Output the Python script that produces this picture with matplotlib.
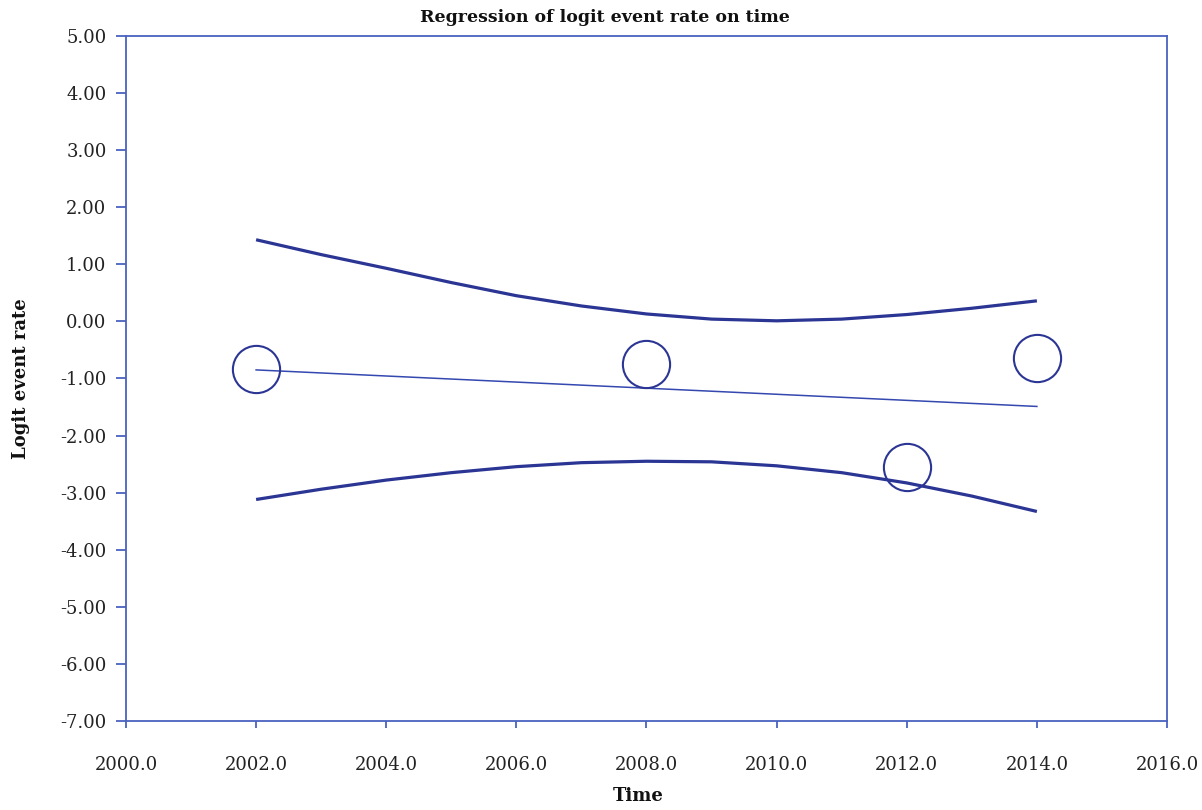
import matplotlib.pyplot as plt

# studies (year, logit event rate)
years = [2002, 2008, 2012, 2014]
logit = [-0.83, -0.74, -2.55, -0.65]

# regression line end points
reg_x = [2002, 2014]
reg_y = [-0.85, -1.49]

# confidence band, one value per year
ci_x = [2002, 2003, 2004, 2005, 2006, 2007, 2008, 2009, 2010, 2011, 2012, 2013, 2014]
ci_upper = [1.43, 1.17, 0.93, 0.68, 0.45, 0.27, 0.13, 0.04, 0.01, 0.04, 0.12, 0.23, 0.36]
ci_lower = [-3.12, -2.94, -2.78, -2.65, -2.545, -2.475, -2.45, -2.46, -2.53, -2.65, -2.83, -3.06, -3.33]

xticks = [2000 + 2 * i for i in range(9)]
yticks = [5 - i for i in range(13)]

dark = '#2b3594'
spine = '#4a62c0'

fig = plt.figure(figsize=(12.02, 8.10), dpi=100, facecolor='white')
ax = fig.add_axes([0.1048, 0.1099, 0.8661, 0.8457])

ax.plot(ci_x, ci_upper, color=dark, lw=2.3, solid_capstyle='butt')
ax.plot(ci_x, ci_lower, color=dark, lw=2.3, solid_capstyle='butt')
ax.plot(reg_x, reg_y, color='#3448b0', lw=1.1)
ax.plot(years, logit, 'o', ms=34, mfc='none', mec=dark, mew=1.5)

ax.set_xlim(2000, 2016)
ax.set_ylim(-7, 5)
ax.set_xticks(xticks)
ax.set_yticks(yticks)
ax.set_xticklabels(['%.1f' % t for t in xticks])
ax.set_yticklabels(['%.2f' % t for t in yticks])

for s in ax.spines.values():
    s.set_color(spine)
    s.set_linewidth(1.3)
ax.tick_params(axis='y', direction='out', length=7, width=1.3, color=spine,
               pad=7, labelsize=13, labelcolor='#222222')
ax.tick_params(axis='x', direction='out', length=5, width=1.3, color=spine,
               pad=20, labelsize=13, labelcolor='#222222')
for lab in ax.get_xticklabels() + ax.get_yticklabels():
    lab.set_family('DejaVu Serif')

fig.text(0.503, 0.9785, 'Regression of logit event rate on time', family='DejaVu Serif',
         fontweight='bold', fontsize=12.5, color='#111111', ha='center', va='center')
fig.text(0.531, 0.017, 'Time', family='DejaVu Serif', fontweight='bold', fontsize=13,
         color='#111111', ha='center', va='center')
ax.set_ylabel('Logit event rate', family='DejaVu Serif', fontweight='bold',
              fontsize=13, labelpad=22, color='#111111')

fig.savefig('out.png', dpi=100, facecolor='white')
